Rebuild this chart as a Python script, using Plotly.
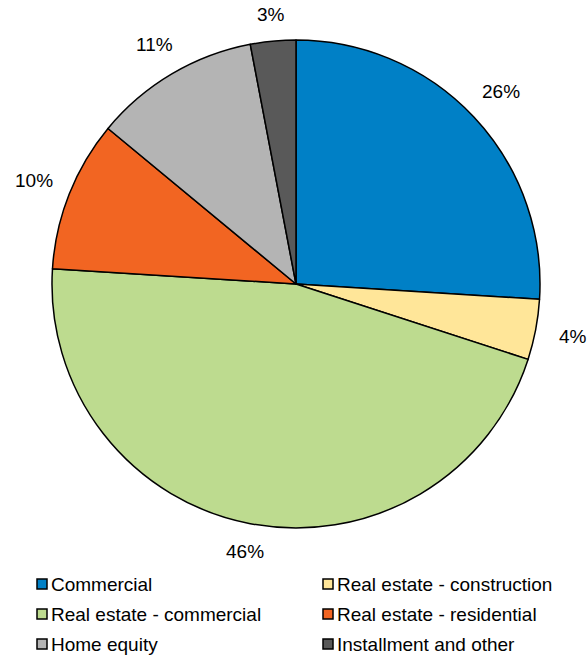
import math
import plotly.graph_objects as go

categories = [
    "Commercial",
    "Real estate - construction",
    "Real estate - commercial",
    "Real estate - residential",
    "Home equity",
    "Installment and other",
]
shares = [26, 4, 46, 10, 11, 3]
colors = ["#0080C6", "#FFE699", "#BDDB8F", "#F26522", "#B4B4B4", "#595959"]

W, H = 587, 655
CX, CY, R = 296, 284, 244  # pie centre and radius in pixels
FONT = "Arial, Liberation Sans, sans-serif"


def px_x(x):
    return x / W


def px_y(y):
    return 1 - y / H


fig = go.Figure(
    go.Pie(
        labels=categories,
        values=shares,
        sort=False,
        direction="clockwise",
        rotation=0,
        marker=dict(colors=colors, line=dict(color="#000000", width=1.5)),
        textinfo="none",
        hoverinfo="label+percent",
        domain=dict(x=[px_x(CX - R), px_x(CX + R)], y=[px_y(CY + R), px_y(CY - R)]),
        showlegend=False,
    )
)

# percentage labels placed just outside each slice's mid-angle
total = sum(shares)
cum = 0.0
annotations = []
for v in shares:
    mid = (cum + v / 2) / total * 2 * math.pi
    cum += v
    s, c = math.sin(mid), math.cos(mid)
    dist = R + 18 + abs(s) * 19 + abs(c) * 7
    annotations.append(
        dict(
            x=px_x(CX + dist * s),
            y=px_y(CY - dist * c),
            xref="paper",
            yref="paper",
            text=f"{round(v / total * 100)}%",
            showarrow=False,
            xanchor="center",
            yanchor="middle",
            font=dict(size=19, color="#000000", family=FONT),
        )
    )

# two-column legend below the pie
shapes = []
col_x = [37, 323]
row_y = [584, 614, 644]
box = 10
for i, (name, col) in enumerate(zip(categories, colors)):
    x0 = col_x[i % 2]
    yc = row_y[i // 2]
    shapes.append(
        dict(
            type="rect",
            xref="paper",
            yref="paper",
            x0=px_x(x0),
            x1=px_x(x0 + box),
            y0=px_y(yc + box / 2),
            y1=px_y(yc - box / 2),
            fillcolor=col,
            line=dict(color="#000000", width=1.5),
        )
    )
    annotations.append(
        dict(
            x=px_x(x0 + box + 2),
            y=px_y(yc),
            xref="paper",
            yref="paper",
            text=name,
            showarrow=False,
            xanchor="left",
            yanchor="middle",
            font=dict(size=19, color="#000000", family=FONT),
        )
    )

fig.update_layout(
    width=W,
    height=H,
    margin=dict(l=0, r=0, t=0, b=0),
    paper_bgcolor="#FFFFFF",
    plot_bgcolor="#FFFFFF",
    annotations=annotations,
    shapes=shapes,
    showlegend=False,
)

fig.write_html("out.html")
